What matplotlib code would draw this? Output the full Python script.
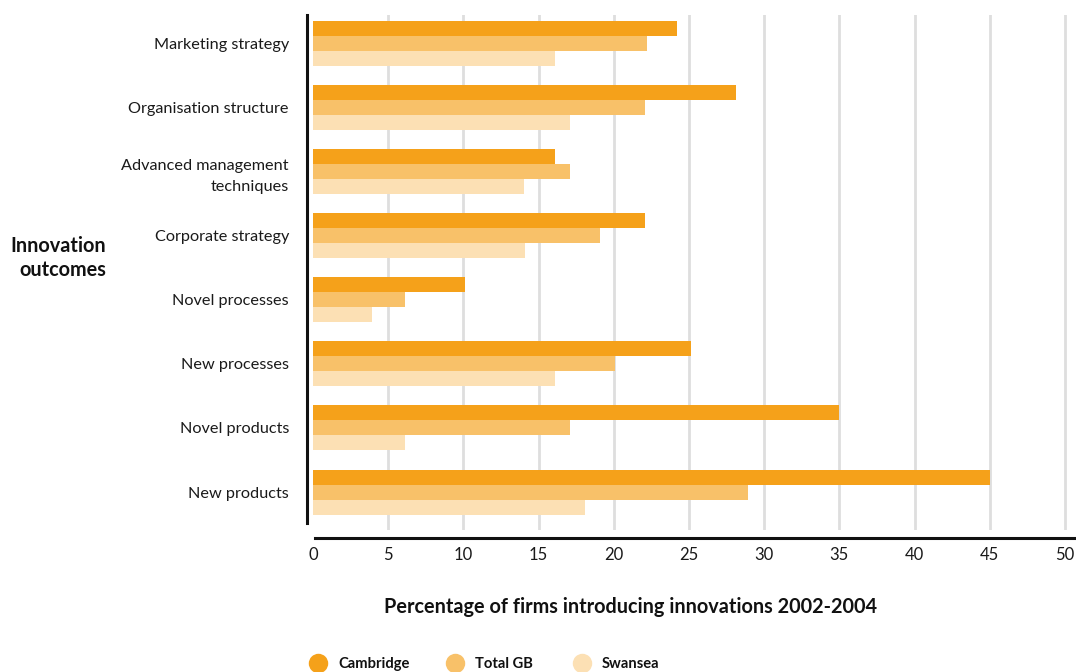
import matplotlib
matplotlib.use("Agg")
import matplotlib.pyplot as plt
from matplotlib.lines import Line2D
import numpy as np

plt.rcParams['font.family'] = ['Lato', 'DejaVu Sans']

categories = ["New products", "Novel products", "New processes", "Novel processes",
              "Corporate strategy", "Advanced management\ntechniques",
              "Organisation structure", "Marketing strategy"]
cambridge = [45.0, 35.0, 25.1, 10.1, 22.1, 16.1, 28.1, 24.2]
total_gb = [28.9, 17.1, 20.1, 6.1, 19.1, 17.1, 22.1, 22.2]
swansea = [18.1, 6.1, 16.1, 3.9, 14.1, 14.0, 17.1, 16.1]
series_names = ["Cambridge", "Total GB", "Swansea"]
colors = ["#F5A11A", "#F8C169", "#FCE0B4"]
xticks = list(range(0, 55, 5))

W, H = 1076, 672
fig = plt.figure(figsize=(W / 100, H / 100), dpi=100)
ax = fig.add_axes([307 / W, 1 - 530 / H, 1 - 307 / W, (530 - 15) / H])

y = np.arange(len(categories))
bh = 0.234
for vals, off, c in zip([cambridge, total_gb, swansea], [bh, 0, -bh], colors):
    ax.barh(y + off, vals, height=bh, color=c, zorder=3, linewidth=0)

x0 = -6 / 15.04
ax.set_xlim(x0, x0 + (W - 307) / 15.04)
ax.set_ylim(-0.592, 7.437)

for t in xticks[1:]:
    ax.axvline(t, color="#DEDEDE", lw=2, zorder=1)

for s in ["top", "right", "bottom"]:
    ax.spines[s].set_visible(False)
ax.spines["left"].set_linewidth(2.2)
ax.spines["left"].set_color("#111111")
ax.spines["left"].set_bounds(-0.48, 7.437)

ax.set_yticks(y)
ax.set_yticklabels(categories, fontsize=11.7, color="#1a1a1a", linespacing=1.65)
ax.tick_params(axis="y", length=0, pad=13)
ax.set_xticks(xticks)
ax.set_xticklabels([str(t) for t in xticks], fontsize=12, color="#1a1a1a")
ax.tick_params(axis="x", length=0, pad=12)

fig.add_artist(Line2D([315 / W, 1], [1 - 538 / H] * 2, color="#111111", lw=2.2))

fig.text(631 / W, 1 - 607 / H, "Percentage of firms introducing innovations 2002-2004",
         ha="center", va="center", fontsize=14.3, fontweight="bold", color="#111111")
fig.text(106 / W, 1 - 258 / H, "Innovation\noutcomes", ha="right", va="center",
         fontsize=14.3, fontweight="bold", color="#111111", linespacing=1.3)

fs = 10.6
half = 0.5 * fs * 100 / 72
for name, c, cx in zip(series_names, colors, [318, 455, 582]):
    h = Line2D([], [], marker="o", linestyle="", markersize=14, color=c,
               markeredgewidth=0)
    leg = fig.legend([h], [name], loc="center left",
                     bbox_to_anchor=((cx - half) / W, 1 - 664 / H), frameon=False,
                     handlelength=1.0, handletextpad=0.86, borderpad=0,
                     borderaxespad=0, prop={"weight": "bold", "size": fs})
    for t in leg.get_texts():
        t.set_color("#111111")

fig.savefig("out.png", dpi=100)
